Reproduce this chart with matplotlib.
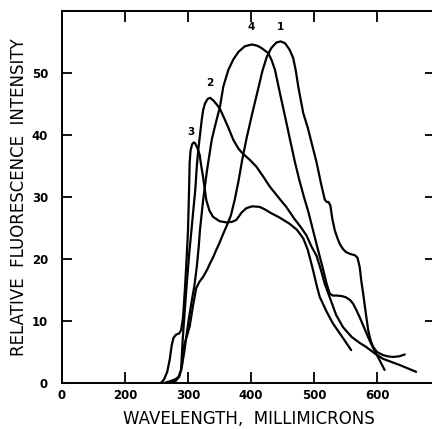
import numpy as np
import matplotlib
matplotlib.use("Agg")
import matplotlib.pyplot as plt

# curve 1
wl_1 = [291, 296, 302.6, 308, 313, 318, 323.8, 330, 335, 340, 345, 350, 355.6, 362, 368, 374,
        380, 386, 393, 402, 411, 418, 425, 432, 440, 447, 454, 461, 467, 471, 475, 479, 483,
        490, 496, 504, 511, 517, 520, 523, 526, 529, 533, 537, 541, 546, 551, 558, 565, 569,
        572.5, 575, 578, 582, 586, 590, 594, 600, 609.5, 617, 625, 635, 644]
fl_1 = [5.0, 6.8, 9.1, 12.5, 15.3, 16.3, 17.1, 18.2, 19.3, 20.3, 21.5, 22.6, 24.0, 25.5, 27.0, 29.5,
        32.5, 36.0, 39.5, 43.5, 47.3, 50.3, 52.6, 54.0, 54.9, 55.1, 54.8, 53.8, 52.4, 50.4, 47.8, 45.6, 43.5,
        41.2, 38.8, 35.6, 32.2, 29.6, 29.2, 29.2, 28.6, 26.5, 24.6, 23.4, 22.4, 21.6, 21.1, 20.8, 20.6, 20.2,
        18.7, 16.5, 14.4, 11.4, 8.5, 6.8, 5.8, 5.0, 4.5, 4.3, 4.2, 4.3, 4.6]

# curve 2
wl_2 = [262, 272, 280, 285, 289, 291.5, 294, 298, 302, 305.5, 309, 311.5, 314, 316.5, 319, 321.7,
        324, 327, 331, 335, 340, 345, 350.8, 357, 364, 372, 380, 387, 398, 408.5, 420, 429.6, 443,
        456, 468, 480, 488, 496, 504, 511, 517, 525, 535, 546, 560, 572, 583, 596, 609.5, 636, 662]
fl_2 = [0.0, 0.3, 0.6, 1.0, 2.1, 6.9, 10.5, 16.0, 21.0, 24.7, 28.5, 31.1, 35.0, 37.8, 40.0, 42.4,
        44.0, 45.1, 45.8, 46.0, 45.6, 45.0, 44.2, 42.8, 41.2, 39.2, 37.8, 37.0, 36.0, 34.9, 33.2, 31.7, 30.0,
        28.4, 26.6, 25.0, 23.8, 22.0, 20.5, 18.2, 16.0, 13.8, 11.0, 9.0, 7.4, 6.5, 5.8, 4.8, 3.9, 2.9, 1.8]

# curve 3
wl_3 = [257, 262, 267, 271, 274, 277, 281, 286, 289, 292, 295, 298, 300, 301.5, 302.6, 304, 306.5,
        309, 311, 314.5, 318.5, 321, 323.8, 329, 334, 339.7, 350, 360.8, 370, 376.7, 385, 392.6, 402,
        413.8, 422, 430, 445, 461, 473, 483, 490, 498, 504, 509, 520, 530, 545, 559]
fl_3 = [0.0, 0.6, 1.8, 3.8, 6.0, 7.3, 7.8, 8.0, 8.5, 10.5, 15.0, 20.5, 24.7, 30.5, 35.5, 37.5, 38.5,
        38.8, 38.7, 38.0, 36.8, 35.0, 33.3, 29.5, 27.8, 26.8, 26.1, 25.9, 26.0, 26.3, 27.5, 28.2, 28.5,
        28.4, 28.0, 27.5, 26.7, 25.7, 24.7, 23.3, 21.5, 18.4, 15.8, 13.9, 11.5, 9.6, 7.4, 5.3]

# curve 4
wl_4 = [270, 280, 286, 290, 294, 298, 302, 306, 310, 314, 317, 319, 324, 330, 337.6, 343, 350.8,
        356, 364, 372, 380, 390, 401, 410, 417, 427.5, 433, 438, 446, 454, 462, 470, 477, 484, 491,
        498, 506, 514, 520, 525, 530, 537, 545, 551, 557, 562, 567, 572.5, 580, 588, 596, 604, 612]
fl_4 = [0.0, 0.3, 1.0, 2.5, 5.0, 8.0, 10.8, 13.3, 15.6, 18.8, 22.0, 24.7, 29.5, 34.2, 39.2, 41.5, 44.6,
        47.8, 50.5, 52.2, 53.4, 54.3, 54.6, 54.4, 54.0, 53.2, 52.0, 50.5, 46.7, 43.0, 39.2, 35.5, 32.6, 30.0, 27.6,
        24.8, 21.6, 18.5, 16.0, 14.4, 14.1, 14.1, 14.0, 13.8, 13.4, 12.8, 11.8, 10.6, 8.8, 6.9, 5.2, 3.7, 2.1]

curve_labels = ["1", "2", "3", "4"]
label_x = [446, 334, 305, 401]
label_y = [56.6, 47.6, 39.6, 56.6]

x_ticks = [0, 200, 300, 400, 500, 600]
y_ticks = [0, 10, 20, 30, 40, 50]


def fwd(x):
    # 0-200 squeezed to half scale, linear above 200
    x = np.asarray(x, dtype=float)
    return np.where(x <= 200, x / 2.0, x - 100.0)


def inv(u):
    u = np.asarray(u, dtype=float)
    return np.where(u <= 100, u * 2.0, u + 100.0)


fig = plt.figure(figsize=(4.32, 4.29), dpi=100)
ax = fig.add_axes([62 / 432, 46 / 429, 373 / 432, 372 / 429])

for wl, fl in [(wl_1, fl_1), (wl_2, fl_2), (wl_3, fl_3), (wl_4, fl_4)]:
    ax.plot(wl, fl, color="black", linewidth=1.6, solid_joinstyle="round", solid_capstyle="round")

for lab, lx, ly in zip(curve_labels, label_x, label_y):
    ax.text(lx, ly, lab, ha="center", va="bottom", fontsize=7.5, fontweight="bold")

ax.set_xscale("function", functions=(fwd, inv))
ax.set_xlim(0, 692)
ax.set_ylim(0, 60)
ax.set_xticks(x_ticks)
ax.set_xticklabels([str(t) for t in x_ticks])
ax.set_yticks(y_ticks)
ax.set_yticklabels([str(t) for t in y_ticks])
ax.xaxis.set_minor_locator(matplotlib.ticker.NullLocator())

ax.tick_params(axis="x", direction="in", length=8, width=1.3, top=True, pad=4, labelsize=8.5)
ax.tick_params(axis="y", direction="in", length=7, width=1.3, right=True, pad=10, labelsize=8.5)
for lbl in ax.get_xticklabels() + ax.get_yticklabels():
    lbl.set_fontweight("bold")
ax.xaxis.get_major_ticks()[0].tick1line.set_visible(False)
ax.xaxis.get_major_ticks()[0].tick2line.set_visible(False)
ax.yaxis.get_major_ticks()[0].tick1line.set_visible(False)
ax.yaxis.get_major_ticks()[0].tick2line.set_visible(False)

for sp in ax.spines.values():
    sp.set_linewidth(1.4)

ax.set_xlabel("WAVELENGTH,  MILLIMICRONS", fontsize=12, labelpad=6)
ax.set_ylabel("RELATIVE  FLUORESCENCE  INTENSITY", fontsize=12, labelpad=3)

fig.savefig("out.png", dpi=100)
